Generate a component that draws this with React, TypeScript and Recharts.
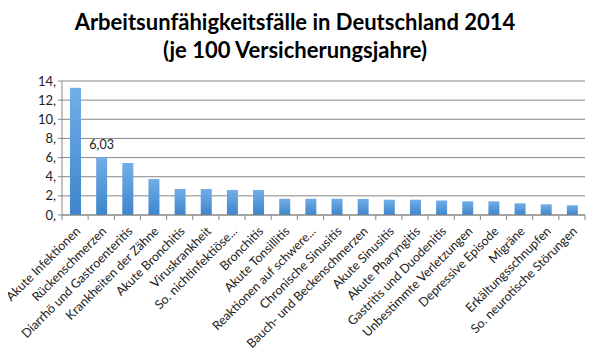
import React from 'react';
import { BarChart, Bar, XAxis, YAxis, CartesianGrid, LabelList } from 'recharts';

const categories = [
  'Akute Infektionen',
  'Rückenschmerzen',
  'Diarrhö und Gastroenteritis',
  'Krankheiten der Zähne',
  'Akute Bronchitis',
  'Viruskrankheit',
  'So. nichtinfektiöse...',
  'Bronchitis',
  'Akute Tonsillitis',
  'Reaktionen auf schwere...',
  'Chronische Sinusitis',
  'Bauch- und Beckenschmerzen',
  'Akute Sinusitis',
  'Akute Pharyngitis',
  'Gastritis und Duodenitis',
  'Unbestimmte Verletzungen',
  'Depressive Episode',
  'Migräne',
  'Erkältungsschnupfen',
  'So. neurotische Störungen',
];

const values = [13.3, 6.03, 5.43, 3.76, 2.72, 2.72, 2.62, 2.62, 1.7, 1.7, 1.7, 1.68, 1.6, 1.6, 1.52, 1.43, 1.43, 1.22, 1.12, 1.02];

const yTicks = [0, 2, 4, 6, 8, 10, 12, 14];

// only the second bar carries a value label in the original
const labelledIndex = 1;

const data = categories.map((name, i) => ({ name, value: values[i] }));

const W = 600;
const H = 356;
const M = { top: 81, right: 15, bottom: 0, left: 0 };
const Y_AXIS_W = 62;
const X_AXIS_H = 141;
const FONT = 'Lato, "Open Sans", sans-serif';
const GRID = '#878787';

const halfBand = (W - M.left - M.right - Y_AXIS_W) / categories.length / 2;

const CategoryTick = (props: any) => {
  const { x, y, payload, index } = props;
  const last = index === categories.length - 1;
  const tx = x + 6;
  const ty = y + 9;
  return (
    <g>
      <line x1={x - halfBand} y1={y - 8} x2={x - halfBand} y2={y - 3} stroke={GRID} />
      {last && <line x1={x + halfBand} y1={y - 8} x2={x + halfBand} y2={y - 3} stroke={GRID} />}
      <text
        x={tx}
        y={ty}
        textAnchor="end"
        fontSize={12.5}
        fontFamily={FONT}
        fill="#222"
        transform={`rotate(-45, ${tx}, ${ty})`}
      >
        {payload.value}
      </text>
    </g>
  );
};

const ValueLabel = (props: any) => {
  const { x, y, width, value, index } = props;
  if (index !== labelledIndex) return null;
  return (
    <text x={x + width / 2} y={y - 8} textAnchor="middle" fontSize={12.5} fontFamily={FONT} fill="#222">
      {String(value).replace('.', ',')}
    </text>
  );
};

export default function App() {
  return (
    <div style={{ width: W, height: H, position: 'relative', margin: -8 }}>
      <div
        style={{
          position: 'absolute',
          top: 8,
          left: 0,
          width: 590,
          textAlign: 'center',
          fontFamily: FONT,
          fontWeight: 700,
          fontSize: 22,
          lineHeight: '28px',
          color: '#000',
        }}
      >
        Arbeitsunfähigkeitsfälle in Deutschland 2014
        <br />
        (je 100 Versicherungsjahre)
      </div>
      <BarChart width={W} height={H} data={data} margin={M}>
        <defs>
          <linearGradient id="barFill" x1="0" y1="0" x2="0" y2="1">
            <stop offset="0%" stopColor="#72AEE8" />
            <stop offset="100%" stopColor="#3D85CC" />
          </linearGradient>
        </defs>
        <CartesianGrid vertical={false} stroke={GRID} />
        <XAxis
          dataKey="name"
          interval={0}
          height={X_AXIS_H}
          stroke={GRID}
          tickLine={false}
          tick={<CategoryTick />}
        />
        <YAxis
          width={Y_AXIS_W}
          domain={[0, 14]}
          ticks={yTicks}
          interval={0}
          stroke={GRID}
          tickSize={4}
          tick={{ fontSize: 13, fontFamily: FONT, fill: '#222' }}
          tickFormatter={(v: number) => `${v},`}
        />
        <Bar dataKey="value" fill="url(#barFill)" barSize={11} isAnimationActive={false}>
          <LabelList dataKey="value" content={<ValueLabel />} />
        </Bar>
      </BarChart>
    </div>
  );
}
